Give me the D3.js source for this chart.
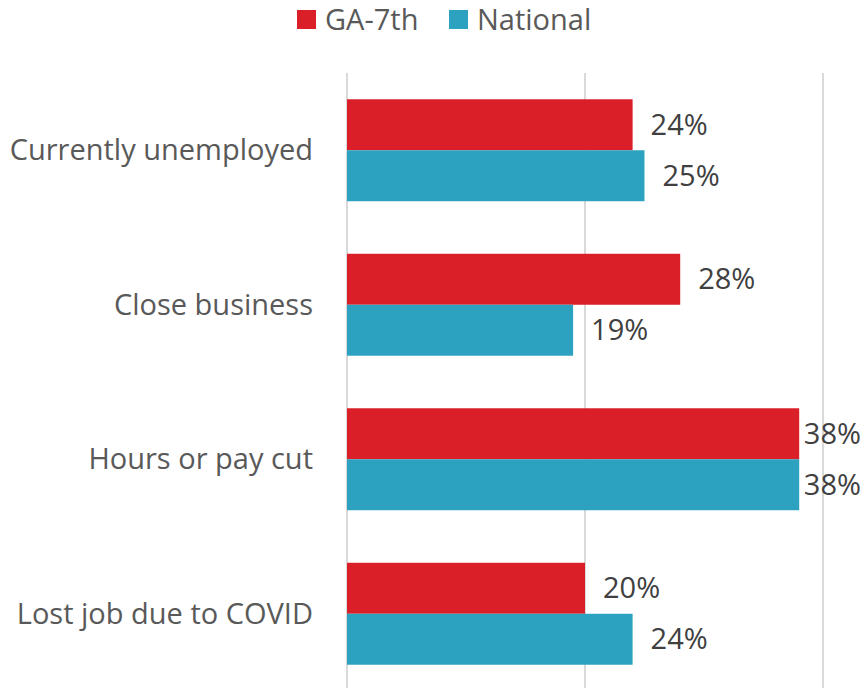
<!DOCTYPE html>
<html>
<head>
<meta charset="utf-8">
<script src="https://cdn.jsdelivr.net/npm/d3@7"></script>
<style>
  body { margin: 0; background: #fff; }
  text { font-family: "Liberation Sans Narrow", "Open Sans", sans-serif; }
</style>
</head>
<body>
<svg id="chart" width="867" height="688"></svg>
<script>
// the data
var categories = ['Currently unemployed', 'Close business', 'Hours or pay cut', 'Lost job due to COVID'];
var seriesNames = ['GA-7th', 'National'];
var ga7th = [24, 28, 38, 20];
var national = [25, 19, 38, 24];
var gridTicks = [0, 20, 40];
var colors = ['#DA1F28', '#2CA2C0'];

var svg = d3.select('#chart');
var W = 867, H = 688;

var x = d3.scaleLinear().domain([0, 40]).range([347, 823]);
var y = d3.scaleBand().domain(categories).range([73, 691]).paddingInner(0.34).paddingOuter(0.17);
var ySub = d3.scaleBand().domain(seriesNames).range([0, y.bandwidth()]);

// gridlines
svg.selectAll('line.grid')
    .data(gridTicks).enter().append('line')
    .attr('x1', d => x(d)).attr('x2', d => x(d))
    .attr('y1', 73).attr('y2', H)
    .attr('stroke', '#d9d9d9').attr('stroke-width', 2);

var rows = categories.map((c, i) => ({ cat: c, vals: [ga7th[i], national[i]] }));

var g = svg.selectAll('g.cat')
    .data(rows).enter().append('g')
    .attr('transform', d => 'translate(0,' + y(d.cat) + ')');

g.selectAll('rect')
    .data(d => d.vals.map((v, j) => ({ v: v, s: seriesNames[j], c: colors[j] })))
    .enter().append('rect')
    .attr('x', x(0))
    .attr('y', d => ySub(d.s))
    .attr('width', d => x(d.v) - x(0))
    .attr('height', ySub.bandwidth())
    .attr('fill', d => d.c);

// value labels, pushed left if they run off the edge
g.selectAll('text.val')
    .data(d => d.vals.map((v, j) => ({ v: v, s: seriesNames[j] })))
    .enter().append('text')
    .attr('class', 'val')
    .attr('y', d => ySub(d.s) + ySub.bandwidth() / 2)
    .attr('dy', '0.35em')
    .attr('font-size', 29)
    .attr('fill', '#404040')
    .text(d => d.v + '%')
    .attr('x', function(d) {
        var w = this.getComputedTextLength();
        return Math.min(x(d.v) + 18, W - 6 - w);
    });

// category labels
svg.selectAll('text.cat')
    .data(categories).enter().append('text')
    .attr('x', 313)
    .attr('y', d => y(d) + y.bandwidth() / 2)
    .attr('dy', '0.35em')
    .attr('text-anchor', 'end')
    .attr('font-size', 29)
    .attr('fill', '#595959')
    .text(d => d);

// legend
var legX = [297, 449];
var leg = svg.selectAll('g.leg')
    .data(seriesNames).enter().append('g')
    .attr('transform', (d, i) => 'translate(' + legX[i] + ',10)');
leg.append('rect').attr('width', 19).attr('height', 19).attr('fill', (d, i) => colors[i]);
leg.append('text')
    .attr('x', 28).attr('y', 9.5).attr('dy', '0.35em')
    .attr('font-size', 29).attr('fill', '#595959')
    .text(d => d);
</script>
</body>
</html>
